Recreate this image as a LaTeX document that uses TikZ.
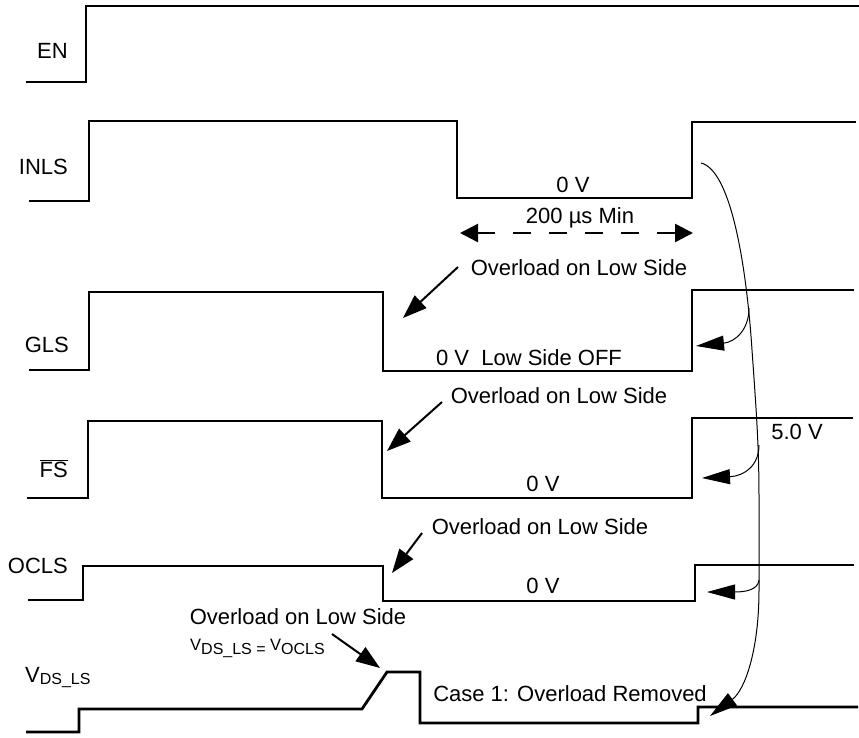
\documentclass[tikz,border=0pt]{standalone}
\usepackage{fontspec}
\setmainfont{Liberation Sans}
\usetikzlibrary{arrows.meta}
\newcommand{\subtxt}[2][2pt]{\raisebox{-#1}{\fontsize{16}{18}\selectfont #2}}
\begin{document}
\begin{tikzpicture}[x=1pt,y=-1pt,
  sig/.style={line width=2.8pt, line join=miter, line cap=butt},
  lbl/.style={anchor=base, inner sep=0pt, font=\fontsize{22}{26}\selectfont},
  lblw/.style={anchor=base west, inner sep=0pt, font=\fontsize{22}{26}\selectfont},
  lble/.style={anchor=base east, inner sep=0pt, font=\fontsize{22}{26}\selectfont},
  ptr/.style={line width=2pt, -{Triangle[length=24pt,width=17pt]}},
  crv/.style={line width=1pt, -{Triangle[length=28pt,width=15pt]}},
  dimarrow/.style={line width=2.5pt, dash pattern=on 18pt off 18pt,
     {Triangle[length=18pt,width=18pt]}-{Triangle[length=18pt,width=18pt]}}
]
\useasboundingbox (0,0) rectangle (859,737);

% ---- signal waveforms ----
\draw[sig] (26,82) -- (86,82) -- (86,6) -- (859,6);
\draw[sig] (29,201) -- (89,201) -- (89,121) -- (457,121) -- (457,198) -- (692,198) -- (692,122) -- (856,122);
\draw[sig] (29,370) -- (89,370) -- (89,292) -- (383,292) -- (383,371) -- (692,371) -- (692,290) -- (854,290);
\draw[sig] (27,498) -- (88,498) -- (88,421) -- (382,421) -- (382,498) -- (692,498) -- (692,418) -- (853,418);
\draw[sig] (28,600) -- (83,600) -- (83,566) -- (383,566) -- (383,601) -- (695,601) -- (695,565) -- (854,565);
\draw[sig] (26,732) -- (79,732) -- (79,709) -- (362,709) -- (387,672) -- (420,672) -- (420,723) -- (698,723) -- (698,707) -- (858,707);

% ---- signal names ----
\node[lble] (nEN)   at (68,58.5) {EN};
\node[lble] (nINLS) at (68,174) {INLS};
\node[lble] (nGLS)  at (69,352.5) {GLS};
\node[lble] (nFS)   at (68,477) {$\overline{\mbox{FS}}$};
\node[lble] (nOCLS) at (68,573) {OCLS};
\node[lblw] (nVDS)  at (25,682) {V\subtxt{DS\_LS}};

% ---- annotations ----
\node[lbl] (t0a) at (573,192) {0 V};
\node[lbl] (t200) at (580,223) {200 µs Min};
\coordinate (d1) at (460,233);
\coordinate (d2) at (693,233);
\draw[dimarrow] (d1) -- (d2);

\node[lbl] (ov1) at (579,275) {Overload on Low Side};
\coordinate (o1s) at (458,267);
\coordinate (o1e) at (403,318);
\draw[ptr] (o1s) -- (o1e);
\node[lbl] (t0b) at (529,365) {0 V\ \ Low Side OFF};

\node[lbl] (ov2) at (559,403) {Overload on Low Side};
\coordinate (o2s) at (442,402);
\coordinate (o2e) at (387,451);
\draw[ptr] (o2s) -- (o2e);
\node[lbl] (t0c) at (543,491) {0 V};

\node[lbl] (ov3) at (540,534) {Overload on Low Side};
\coordinate (o3s) at (422,533);
\coordinate (o3e) at (392,573);
\draw[ptr] (o3s) -- (o3e);
\node[lbl] (t0d) at (543,593) {0 V};

\node[lbl] (ov4) at (298,624) {Overload on Low Side};
\node[anchor=base west, inner sep=0pt, font=\fontsize{16.5}{18}\selectfont] (veq) at (190,650)
  {V\subtxt[4pt]{DS\_LS = }V\subtxt[4pt]{OCLS}};
\coordinate (o4s) at (332,634);
\coordinate (o4e) at (380,668);
\draw[ptr] (o4s) -- (o4e);

\node[lbl] (case) at (570,701) {Case 1: Overload Removed};
\node[lbl] (t5v) at (797,439) {5.0 V};

% ---- curved arrows ----
\coordinate (c0) at (701,163);
\coordinate (cEnd) at (710,716);
\draw[crv] (c0) .. controls (730,170) and (746,260) .. (752,350)
   .. controls (757,420) and (759,450) .. (759,500) -- (759,590)
   .. controls (759,650) and (745,690) .. (cEnd);
\coordinate (a1s) at (749,308);
\coordinate (a1e) at (696,346);
\draw[crv] (a1s) .. controls (749,330) and (735,342) .. (a1e);
\coordinate (a2s) at (759,445);
\coordinate (a2e) at (702,478);
\draw[crv] (a2s) .. controls (759,465) and (745,476) .. (a2e);
\coordinate (a3s) at (759,580);
\coordinate (a3e) at (707,592);
\draw[crv] (a3s) .. controls (758,590) and (745,592) .. (a3e);
\end{tikzpicture}
\end{document}
